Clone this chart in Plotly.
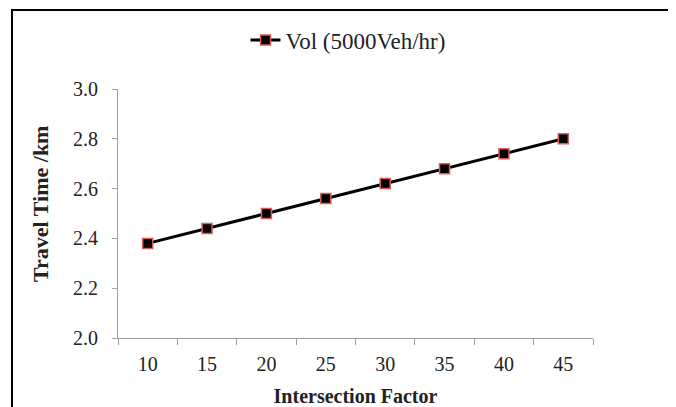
import plotly.graph_objects as go

categories = ["10", "15", "20", "25", "30", "35", "40", "45"]
travel_time = [2.38, 2.44, 2.50, 2.56, 2.62, 2.68, 2.74, 2.80]
series_name = "Vol (5000Veh/hr)"
y_ticks = [2.0, 2.2, 2.4, 2.6, 2.8, 3.0]

W, H = 676, 407
L, R, T, B = 110, 91, 81, 77
pw, ph = W - L - R, H - T - B

def px_to_paper_x(px):
    return (px - L) / pw

def px_to_paper_y(py):
    return 1 - (py - T) / ph

fig = go.Figure()
fig.add_trace(go.Scatter(
    x=categories, y=travel_time, name=series_name, mode="lines+markers",
    line=dict(color="black", width=3),
    marker=dict(symbol="square", size=10, color="black",
                line=dict(color="#dc5a5a", width=1.5)),
    showlegend=True,
))

font_family = "Liberation Serif, Times New Roman, serif"
fig.update_layout(
    width=W, height=H,
    margin=dict(l=L, r=R, t=T, b=B, autoexpand=False),
    paper_bgcolor="white", plot_bgcolor="white",
    font=dict(family=font_family, size=20, color="#222"),
    showlegend=True,
    legend=dict(orientation="h", x=px_to_paper_x(340), xanchor="center",
                y=px_to_paper_y(32), yanchor="middle",
                font=dict(size=23, color="#222"), bgcolor="rgba(0,0,0,0)"),
    xaxis=dict(
        type="category", range=[-0.5, 7.5], tickson="boundaries",
        showline=True, linecolor="#a0a0a0", linewidth=1,
        ticks="outside", ticklen=6, tickcolor="#a0a0a0",
        showgrid=False, zeroline=False, automargin=False,
        tickfont=dict(size=20), ticklabelstandoff=8,
        title=dict(text="<b>Intersection Factor</b>", font=dict(size=20, color="#222"), standoff=14),
    ),
    yaxis=dict(
        range=[2.0, 3.0], tickvals=y_ticks, ticktext=[f"{v:.1f}" for v in y_ticks],
        showline=True, linecolor="#a0a0a0", linewidth=1,
        ticks="outside", ticklen=5, tickcolor="#a0a0a0",
        showgrid=False, zeroline=False, automargin=False,
        tickfont=dict(size=20), ticklabelstandoff=10,
    ),
    annotations=[dict(text="<b>Travel Time /km</b>", textangle=-90,
                      xref="paper", yref="paper",
                      x=px_to_paper_x(32), y=px_to_paper_y(196),
                      xanchor="center", yanchor="middle", showarrow=False,
                      font=dict(size=22, color="#222", family=font_family))],
    shapes=[dict(type="rect", xref="paper", yref="paper",
                 x0=px_to_paper_x(4), x1=px_to_paper_x(662),
                 y0=px_to_paper_y(2), y1=px_to_paper_y(420),
                 line=dict(color="black", width=2), fillcolor="rgba(0,0,0,0)")],
)

fig.write_html("out.html")
